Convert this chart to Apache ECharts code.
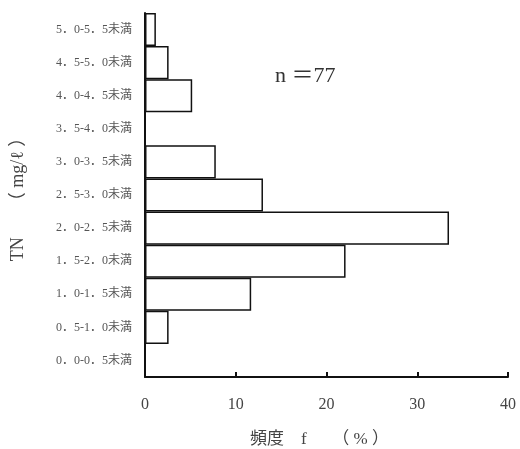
<!DOCTYPE html>
<html><head><meta charset="utf-8">
<script src="https://cdn.jsdelivr.net/npm/echarts@6/dist/echarts.min.js"></script>
<style>html,body{margin:0;padding:0;background:#fff}#c{width:520px;height:449px}</style>
</head><body><div id="c"></div>
<script>
const categories = ['0．0-0．5未満','0．5-1．0未満','1．0-1．5未満','1．5-2．0未満','2．0-2．5未満','2．5-3．0未満','3．0-3．5未満','3．5-4．0未満','4．0-4．5未満','4．5-5．0未満','5．0-5．5未満'];
const freq = [0, 2.6, 11.7, 22.1, 33.5, 13.0, 7.8, 0, 5.2, 2.6, 1.2];
const xTicks = [0, 10, 20, 30, 40];
const font = "'Liberation Serif','Noto Sans CJK JP',serif";
const chart = echarts.init(document.getElementById('c'));
chart.setOption({
  animation: false,
  grid: {left: 145, right: 12, top: 13, bottom: 72, outerBoundsMode: 'none', containLabel: false},
  xAxis: {
    type: 'value', min: 0, max: 40, interval: 10,
    name: '頻度　f　　（ % ）', nameLocation: 'middle', nameGap: 54,
    nameTextStyle: {fontFamily: font, fontSize: 17, color: '#444', padding: [0, 14, 0, 0]},
    axisLine: {show: true, lineStyle: {color: '#111', width: 2}},
    axisTick: {show: true, inside: true, length: 5, lineStyle: {color: '#111', width: 2}},
    axisLabel: {fontFamily: font, fontSize: 16, color: '#444', margin: 20,
      formatter: v => xTicks.includes(v) ? String(v) : ''},
    splitLine: {show: false}
  },
  yAxis: {
    type: 'category', data: categories,
    name: 'TN　　（ mg/ℓ ）', nameLocation: 'middle', nameGap: 118, nameRotate: 90,
    nameTextStyle: {fontFamily: font, fontSize: 18, color: '#444'},
    axisLine: {show: true, lineStyle: {color: '#111', width: 2}},
    axisTick: {show: false},
    axisLabel: {fontFamily: font, fontSize: 12, color: '#555', margin: 13}
  },
  series: [{
    type: 'bar', data: freq, barCategoryGap: 0,
    itemStyle: {color: '#fff', borderColor: '#111', borderWidth: 1.5}
  }],
  graphic: [{
    type: 'text', left: 275, top: 65,
    style: {text: 'n ＝77', font: "22px 'Liberation Serif','Noto Sans CJK JP',serif", fill: '#333'}
  }]
});
</script></body></html>
